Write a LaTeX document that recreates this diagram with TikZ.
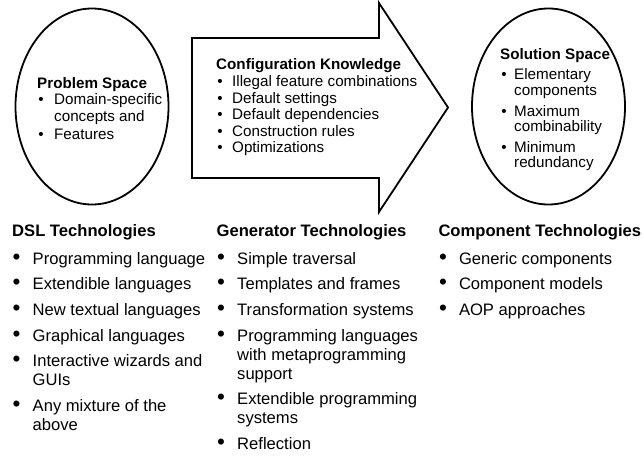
\documentclass[tikz,border=0pt]{standalone}
\usepackage{fontspec}
\setmainfont{Liberation Sans}
\usepackage{tikz}
\usetikzlibrary{shapes.geometric}
\usepackage{xcolor}

% small bullet for the boxed lists, large one for the technology lists
\newcommand{\sbul}{\hspace*{1.2pt}\textbullet}
\newcommand{\bbul}{\hspace*{0.5pt}\scalebox{1.35}{\textbullet}}

\tikzset{
  space/.style={ellipse, draw, line width=1.8pt, inner sep=0pt,
    minimum width=153pt, minimum height=196pt},
  toplist/.style={anchor=base west, inner sep=0pt,
    font=\fontsize{15.2}{15.8}\selectfont},
  techlist/.style={anchor=base west, inner sep=0pt,
    font=\fontsize{16.6}{19}\selectfont},
}

\begin{document}
\begin{tikzpicture}[x=1pt, y=-1pt]
      \useasboundingbox (0,0) rectangle (644,457);

      % the two spaces and the arrow between them
      \node[space] (problem) at (92,106.5) {};
      \node[space] (solution) at (548.5,106.5) {};
      \draw[line width=1.8pt, line join=miter]
        (192,38) -- (379,38) -- (379,3) -- (448,107.5)
        -- (379,212) -- (379,178) -- (192,178) -- cycle;

      \node[toplist] (problemtxt) at (37,88.3) {%
        \begin{tabular}[t]{@{}p{17pt}@{}l@{}}
          \multicolumn{2}{@{}l@{}}{\textbf{Problem Space}}\\
          \sbul & Domain-specific\\[1.6pt]
                & concepts and\\[1.8pt]
          \sbul & Features
        \end{tabular}};

      \node[toplist] (configtxt) at (216,70) {%
        \begin{tabular}[t]{@{}p{16pt}@{}l@{}}
          \multicolumn{2}{@{}l@{}}{\textbf{Configuration Knowledge}}\\[0.8pt]
          \sbul & Illegal feature combinations\\[0.8pt]
          \sbul & Default settings\\[0.8pt]
          \sbul & Default dependencies\\[0.8pt]
          \sbul & Construction rules\\[0.8pt]
          \sbul & Optimizations
        \end{tabular}};

      \node[toplist] (solutiontxt) at (500,60) {%
        \begin{tabular}[t]{@{}p{14pt}@{}l@{}}
          \multicolumn{2}{@{}l@{}}{\textbf{Solution Space}}\\[4.2pt]
          \sbul & Elementary\\
                & components\\[4.5pt]
          \sbul & Maximum\\
                & combinability\\[4.5pt]
          \sbul & Minimum\\
                & redundancy
        \end{tabular}};

      % technologies below
      \node[techlist] (dsl) at (12,236.7) {%
        \begin{tabular}[t]{@{}p{20.5pt}@{}l@{}}
          \multicolumn{2}{@{}l@{}}{\textbf{DSL Technologies}}\\[8.3pt]
          \bbul & Programming language\\[6.7pt]
          \bbul & Extendible languages\\[6.7pt]
          \bbul & New textual languages\\[6.7pt]
          \bbul & Graphical languages\\[6.7pt]
          \bbul & Interactive wizards and\\
                & GUIs\\[6.7pt]
          \bbul & Any mixture of the\\
                & above
        \end{tabular}};

      \node[techlist] (generator) at (216.5,236.7) {%
        \begin{tabular}[t]{@{}p{20.5pt}@{}l@{}}
          \multicolumn{2}{@{}l@{}}{\textbf{Generator Technologies}}\\[8.3pt]
          \bbul & Simple traversal\\[6.7pt]
          \bbul & Templates and frames\\[6.7pt]
          \bbul & Transformation systems\\[6.7pt]
          \bbul & Programming languages\\
                & with metaprogramming\\
                & support\\[6.7pt]
          \bbul & Extendible programming\\
                & systems\\[6.7pt]
          \bbul & Reflection
        \end{tabular}};

      \node[techlist] (component) at (438.3,236.7) {%
        \begin{tabular}[t]{@{}p{20.5pt}@{}l@{}}
          \multicolumn{2}{@{}l@{}}{\textbf{Component Technologies}}\\[8.3pt]
          \bbul & Generic components\\[6.7pt]
          \bbul & Component models\\[6.7pt]
          \bbul & AOP approaches
        \end{tabular}};
    \end{tikzpicture}
\end{document}
